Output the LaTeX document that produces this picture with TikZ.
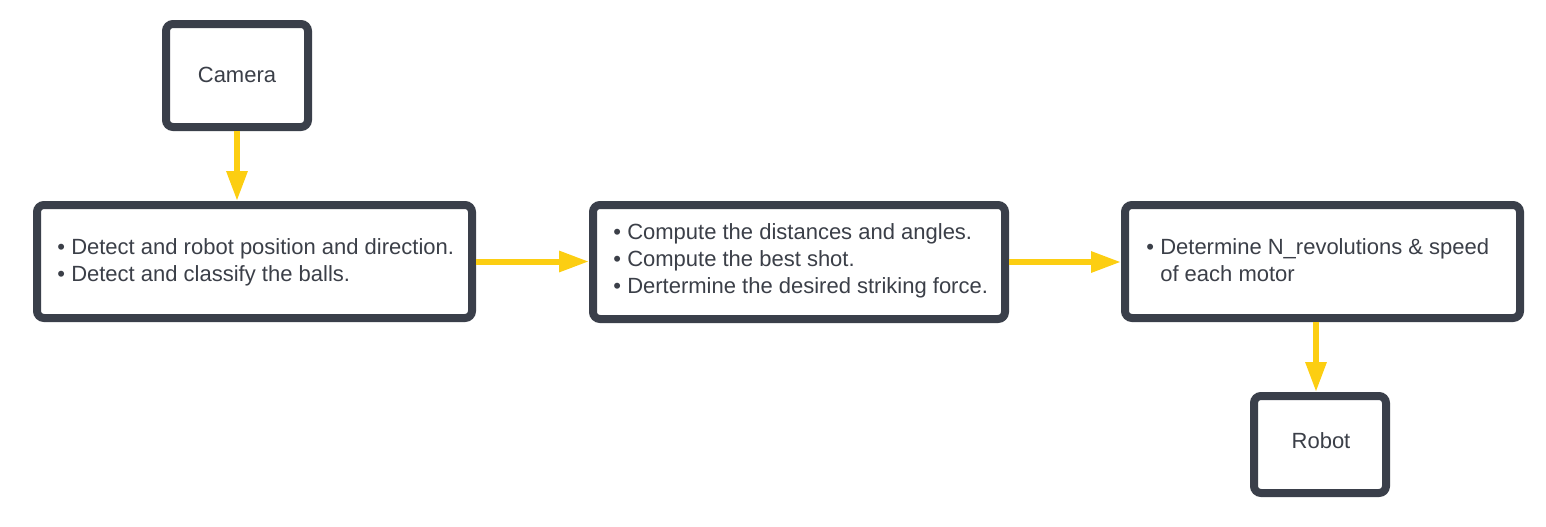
\documentclass[tikz,border=0pt]{standalone}
\usepackage{fontspec}
\setmainfont{Liberation Sans}
\usetikzlibrary{arrows.meta}
\definecolor{boxc}{HTML}{3A3F4A}
\definecolor{txtc}{HTML}{3B3F48}
\definecolor{arr}{HTML}{FCCE12}
\tikzset{
  blk/.style={draw=boxc, line width=4pt, rounded corners=3.5pt, fill=white, inner sep=0pt},
  lbl/.style={text=txtc, font=\fontsize{11pt}{13.5pt}\selectfont, inner sep=0pt},
  flow/.style={draw=arr, line width=3pt, -{Triangle[length=15pt,width=10pt]}}
}
\newcommand{\bl}{\textbullet}
\begin{document}
\begin{tikzpicture}[x=0.5pt,y=-0.5pt]
\useasboundingbox (0,0) rectangle (1546,526);
\node[blk, minimum width=71pt, minimum height=51.5pt] (cam) at (237,75.5) {};
\node[lbl] (camt) at (237,75) {Camera};
\node[blk, minimum width=217.5pt, minimum height=56.5pt] (b1) at (254.5,261.5) {};
\node[blk, minimum width=206pt, minimum height=57pt] (b2) at (799,262) {};
\node[blk, minimum width=197.5pt, minimum height=56.5pt] (b3) at (1322.5,261.5) {};
\node[blk, minimum width=66pt, minimum height=48.5pt] (rob) at (1320,444.5) {};
\node[lbl] (robt) at (1321,441) {Robot};
\node[lbl, anchor=west] (t1) at (57,262.5) {\begin{tabular}{@{}l@{\hspace{0.28em}}l@{}}\bl & Detect and robot position and direction.\\ \bl & Detect and classify the balls.\end{tabular}};
\node[lbl, anchor=west] (t2) at (613,261.5) {\begin{tabular}{@{}l@{\hspace{0.28em}}l@{}}\bl & Compute the distances and angles.\\ \bl & Compute the best shot.\\ \bl & Dertermine the desired striking force.\end{tabular}};
\node[lbl, anchor=west] (t3) at (1146,262.5) {\begin{tabular}{@{}l@{\hspace{0.28em}}l@{}}\bl & Determine N\_revolutions \& speed\\ & of each motor\end{tabular}};
\draw[flow] (cam.south) -- (b1.north -| cam.south);
\draw[flow] (b1.east) -- (b2.west |- b1.east);
\draw[flow] (b2.east) -- (b3.west |- b2.east);
\draw[flow] ([xshift=-2pt]b3.south -| rob.north) -- ([xshift=-2pt]rob.north);
\end{tikzpicture}
\end{document}
